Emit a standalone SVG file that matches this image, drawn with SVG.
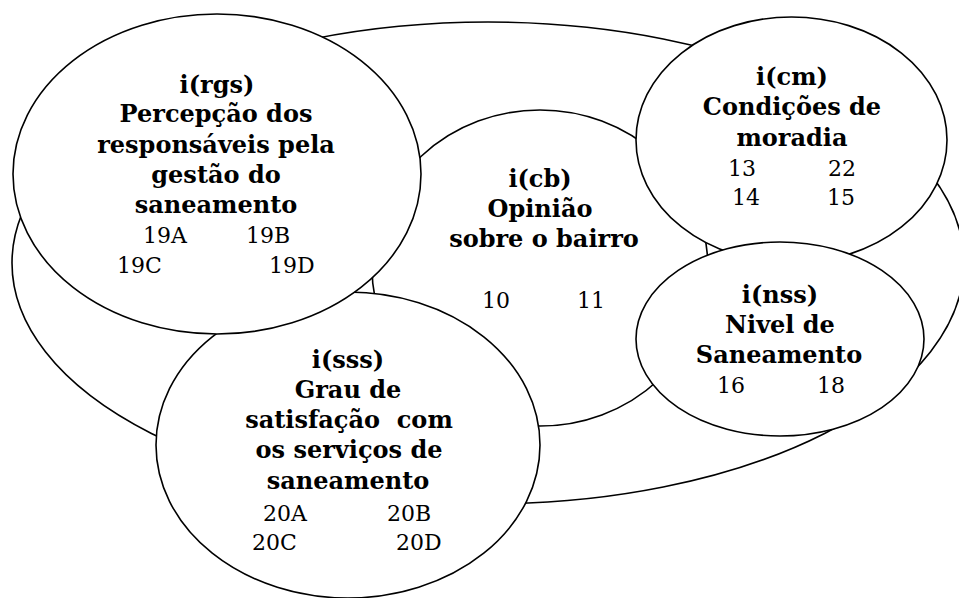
<svg xmlns="http://www.w3.org/2000/svg" width="959" height="598" viewBox="0 0 959 598">
<style>
.e{fill:#fff;stroke:#000;stroke-width:1.6}
.t{font-family:"DejaVu Serif","Liberation Serif",serif;font-weight:bold;font-size:24px;text-anchor:middle;fill:#000}
.n{font-family:"DejaVu Serif","Liberation Serif",serif;font-size:22px;fill:#000}
</style>
<rect width="959" height="598" fill="#fff"/>
<g id="outer"><ellipse class="e" cx="488" cy="263" rx="476" ry="241"/></g>
<g id="cb">
<ellipse class="e" cx="540" cy="268" rx="168" ry="158"/>
<text class="t" x="540" y="187">i(cb)</text>
<text class="t" x="540" y="217">Opinião</text>
<text class="t" x="544" y="247">sobre o bairro</text>
<text class="n" x="482" y="308">10</text>
<text class="n" x="577" y="308">11</text>
</g>
<g id="sss">
<ellipse class="e" cx="348" cy="445" rx="192" ry="153"/>
<text class="t" x="348" y="368">i(sss)</text>
<text class="t" x="348" y="398">Grau de</text>
<text class="t" x="349" y="428" xml:space="preserve">satisfação  com</text>
<text class="t" x="349" y="458">os serviços de</text>
<text class="t" x="348" y="489">saneamento</text>
<text class="n" x="263" y="521">20A</text>
<text class="n" x="387" y="521">20B</text>
<text class="n" x="252" y="550">20C</text>
<text class="n" x="396" y="550">20D</text>
</g>
<g id="rgs">
<ellipse class="e" cx="217" cy="174" rx="204" ry="160"/>
<text class="t" x="217" y="93">i(rgs)</text>
<text class="t" x="216" y="122">Percepção dos</text>
<text class="t" x="216" y="153">responsáveis pela</text>
<text class="t" x="216" y="183">gestão do</text>
<text class="t" x="216" y="213">saneamento</text>
<text class="n" x="143" y="243">19A</text>
<text class="n" x="246" y="243">19B</text>
<text class="n" x="117" y="273">19C</text>
<text class="n" x="269" y="273">19D</text>
</g>
<g id="cm">
<ellipse class="e" cx="791.5" cy="140" rx="155.5" ry="123"/>
<text class="t" x="792" y="85">i(cm)</text>
<text class="t" x="792" y="115">Condições de</text>
<text class="t" x="792" y="146">moradia</text>
<text class="n" x="728" y="176">13</text>
<text class="n" x="828" y="176">22</text>
<text class="n" x="732" y="205">14</text>
<text class="n" x="827" y="205">15</text>
</g>
<g id="nss">
<ellipse class="e" cx="780" cy="339" rx="144" ry="97"/>
<text class="t" x="780" y="303">i(nss)</text>
<text class="t" x="780" y="333">Nivel de</text>
<text class="t" x="779" y="363">Saneamento</text>
<text class="n" x="717" y="393">16</text>
<text class="n" x="817" y="393">18</text>
</g>
<g id="connectors"></g>
</svg>
